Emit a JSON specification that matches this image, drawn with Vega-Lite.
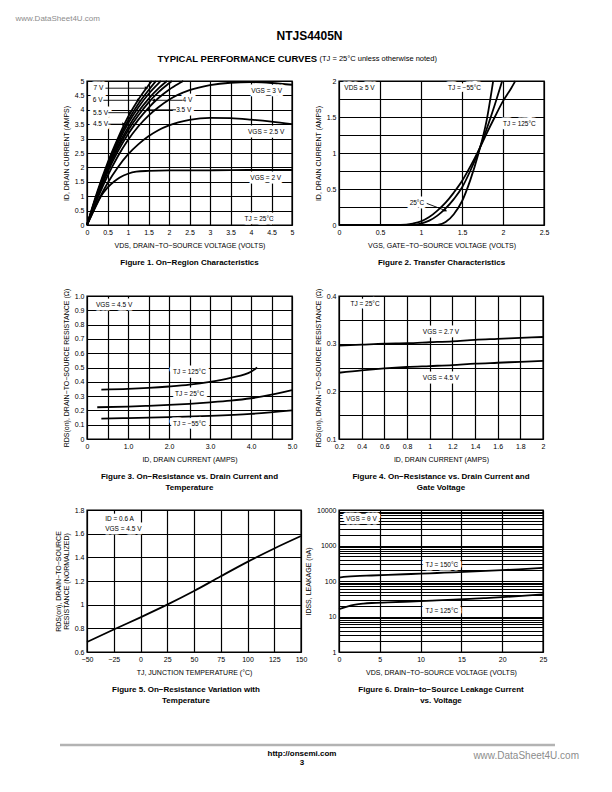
{
"$schema": "https://vega.github.io/schema/vega-lite/v6.json",
"background": "white",
"padding": {"left": 14, "top": 13, "right": 5, "bottom": 5},
"columns": 2,
"bounds": "flush",
"align": "each",
"spacing": {"row": 71, "column": 38},
"config": {
  "font": "Liberation Sans",
  "view": {"stroke": "#000", "strokeWidth": 1.4},
  "axis": {"zindex": 0, "grid": true, "gridColor": "#000", "gridWidth": 1.2, "gridOpacity": 1, "domain": false, "ticks": false, "labelFontSize": 7, "labelColor": "#000", "labelPadding": 3, "titleFontSize": 7, "titleFontWeight": "normal", "titleColor": "#000", "labelOverlap": false, "labelFlush": false},
  "axisX": {"titlePadding": 6},
  "axisY": {"titlePadding": 5},
  "title": {"orient": "bottom", "frame": "group", "anchor": "middle", "fontSize": 8, "fontWeight": "bold", "color": "#000", "offset": 11, "lineHeight": 11},
  "line": {"color": "#000", "strokeWidth": 1.8, "interpolate": "monotone"},
  "rule": {"color": "#000", "strokeWidth": 0.9},
  "text": {"fontSize": 6.5, "color": "#000"}
},
"datasets": {
  "f1": [
    {"s":"7V","x":0,"y":0},{"s":"7V","x":0.25,"y":1.15},{"s":"7V","x":0.5,"y":2.15},{"s":"7V","x":0.75,"y":3.0},{"s":"7V","x":1,"y":3.75},{"s":"7V","x":1.25,"y":4.35},{"s":"7V","x":1.5,"y":4.85},{"s":"7V","x":1.58,"y":5},
    {"s":"6V","x":0,"y":0},{"s":"6V","x":0.25,"y":1.1},{"s":"6V","x":0.5,"y":2.08},{"s":"6V","x":0.75,"y":2.92},{"s":"6V","x":1,"y":3.62},{"s":"6V","x":1.25,"y":4.2},{"s":"6V","x":1.5,"y":4.68},{"s":"6V","x":1.68,"y":5},
    {"s":"5.5V","x":0,"y":0},{"s":"5.5V","x":0.25,"y":1.07},{"s":"5.5V","x":0.5,"y":2.02},{"s":"5.5V","x":0.75,"y":2.83},{"s":"5.5V","x":1,"y":3.52},{"s":"5.5V","x":1.25,"y":4.08},{"s":"5.5V","x":1.5,"y":4.55},{"s":"5.5V","x":1.75,"y":4.93},{"s":"5.5V","x":1.8,"y":5},
    {"s":"4.5V","x":0,"y":0},{"s":"4.5V","x":0.25,"y":1.03},{"s":"4.5V","x":0.5,"y":1.95},{"s":"4.5V","x":0.75,"y":2.73},{"s":"4.5V","x":1,"y":3.38},{"s":"4.5V","x":1.25,"y":3.93},{"s":"4.5V","x":1.5,"y":4.38},{"s":"4.5V","x":1.75,"y":4.75},{"s":"4.5V","x":1.95,"y":5},
    {"s":"4V","x":0,"y":0},{"s":"4V","x":0.25,"y":1.0},{"s":"4V","x":0.5,"y":1.9},{"s":"4V","x":0.75,"y":2.65},{"s":"4V","x":1,"y":3.28},{"s":"4V","x":1.25,"y":3.8},{"s":"4V","x":1.5,"y":4.25},{"s":"4V","x":1.75,"y":4.62},{"s":"4V","x":2,"y":4.92},{"s":"4V","x":2.07,"y":5},
    {"s":"3.5V","x":0,"y":0},{"s":"3.5V","x":0.25,"y":0.97},{"s":"3.5V","x":0.5,"y":1.83},{"s":"3.5V","x":0.75,"y":2.55},{"s":"3.5V","x":1,"y":3.15},{"s":"3.5V","x":1.25,"y":3.65},{"s":"3.5V","x":1.5,"y":4.07},{"s":"3.5V","x":1.75,"y":4.42},{"s":"3.5V","x":2,"y":4.7},{"s":"3.5V","x":2.25,"y":4.92},{"s":"3.5V","x":2.35,"y":5},
    {"s":"3V","x":0,"y":0},{"s":"3V","x":0.25,"y":0.9},{"s":"3V","x":0.5,"y":1.7},{"s":"3V","x":0.75,"y":2.38},{"s":"3V","x":1,"y":2.95},{"s":"3V","x":1.25,"y":3.42},{"s":"3V","x":1.5,"y":3.8},{"s":"3V","x":1.75,"y":4.1},{"s":"3V","x":2,"y":4.35},{"s":"3V","x":2.5,"y":4.68},{"s":"3V","x":3,"y":4.86},{"s":"3V","x":3.5,"y":4.94},{"s":"3V","x":4,"y":4.96},{"s":"3V","x":4.5,"y":4.93},{"s":"3V","x":5,"y":4.87},
    {"s":"2.5V","x":0,"y":0},{"s":"2.5V","x":0.25,"y":0.78},{"s":"2.5V","x":0.5,"y":1.45},{"s":"2.5V","x":0.75,"y":2.0},{"s":"2.5V","x":1,"y":2.45},{"s":"2.5V","x":1.25,"y":2.8},{"s":"2.5V","x":1.5,"y":3.08},{"s":"2.5V","x":1.75,"y":3.3},{"s":"2.5V","x":2,"y":3.46},{"s":"2.5V","x":2.5,"y":3.65},{"s":"2.5V","x":3,"y":3.72},{"s":"2.5V","x":3.5,"y":3.71},{"s":"2.5V","x":4,"y":3.66},{"s":"2.5V","x":4.5,"y":3.59},{"s":"2.5V","x":5,"y":3.5},
    {"s":"2V","x":0,"y":0},{"s":"2V","x":0.1,"y":0.3},{"s":"2V","x":0.2,"y":0.6},{"s":"2V","x":0.34,"y":1.0},{"s":"2V","x":0.5,"y":1.3},{"s":"2V","x":0.67,"y":1.52},{"s":"2V","x":0.8,"y":1.65},{"s":"2V","x":1,"y":1.78},{"s":"2V","x":1.2,"y":1.85},{"s":"2V","x":1.5,"y":1.88},{"s":"2V","x":2,"y":1.9},{"s":"2V","x":3,"y":1.9},{"s":"2V","x":4,"y":1.91},{"s":"2V","x":5,"y":1.91}
  ],
  "f1r": [
    {"x":0.45,"y":4.75,"x2":1.45,"y2":4.75},{"x":0.4,"y":4.33,"x2":1.26,"y2":4.33},{"x":0.52,"y":3.9,"x2":1.05,"y2":3.9},{"x":0.52,"y":3.5,"x2":0.9,"y2":3.5},{"x":2.33,"y":4.33,"x2":1.62,"y2":4.33},{"x":2.17,"y":4.0,"x2":1.48,"y2":4.0}
  ],
  "f1t": [
    {"t":"7 V","x":0.28,"y":4.75},{"t":"6 V","x":0.26,"y":4.33},{"t":"5.5 V","x":0.33,"y":3.9},{"t":"4.5 V","x":0.33,"y":3.5},{"t":"4 V","x":2.45,"y":4.33},{"t":"3.5 V","x":2.36,"y":4.0},{"t":"VGS = 3 V","x":4.38,"y":4.66},{"t":"VGS = 2.5 V","x":4.37,"y":3.24},{"t":"VGS = 2 V","x":4.36,"y":1.64},{"t":"TJ = 25°C","x":4.2,"y":0.2}
  ],
  "f2": [
    {"s":"-55","x":0,"y":0},{"s":"-55","x":1.2,"y":0},{"s":"-55","x":1.3,"y":0.04},{"s":"-55","x":1.4,"y":0.15},{"s":"-55","x":1.5,"y":0.33},{"s":"-55","x":1.6,"y":0.62},{"s":"-55","x":1.7,"y":0.99},{"s":"-55","x":1.8,"y":1.45},{"s":"-55","x":1.88,"y":2},
    {"s":"25","x":0,"y":0},{"s":"25","x":0.9,"y":0},{"s":"25","x":1.0,"y":0.02},{"s":"25","x":1.1,"y":0.06},{"s":"25","x":1.2,"y":0.13},{"s":"25","x":1.3,"y":0.23},{"s":"25","x":1.4,"y":0.36},{"s":"25","x":1.5,"y":0.52},{"s":"25","x":1.6,"y":0.75},{"s":"25","x":1.7,"y":1.02},{"s":"25","x":1.8,"y":1.33},{"s":"25","x":1.9,"y":1.67},{"s":"25","x":1.99,"y":2},
    {"s":"125","x":0,"y":0},{"s":"125","x":0.75,"y":0},{"s":"125","x":0.9,"y":0.02},{"s":"125","x":1.0,"y":0.05},{"s":"125","x":1.1,"y":0.11},{"s":"125","x":1.2,"y":0.2},{"s":"125","x":1.3,"y":0.31},{"s":"125","x":1.4,"y":0.45},{"s":"125","x":1.5,"y":0.61},{"s":"125","x":1.6,"y":0.81},{"s":"125","x":1.7,"y":1.03},{"s":"125","x":1.8,"y":1.27},{"s":"125","x":1.9,"y":1.5},{"s":"125","x":2.0,"y":1.72},{"s":"125","x":2.1,"y":1.9},{"s":"125","x":2.15,"y":2}
  ],
  "f2r": [{"x":1.07,"y":0.3,"x2":1.3,"y2":0.2}],
  "f2t": [
    {"t":"VDS ≥ 5 V","x":0.25,"y":1.9},{"t":"TJ = −55°C","x":1.53,"y":1.9},{"t":"TJ = 125°C","x":2.2,"y":1.4},{"t":"25°C","x":0.95,"y":0.3}
  ],
  "f3": [
    {"s":"125","x":0.35,"y":0.345},{"s":"125","x":1,"y":0.35},{"s":"125","x":1.5,"y":0.357},{"s":"125","x":2,"y":0.367},{"s":"125","x":2.5,"y":0.38},{"s":"125","x":3,"y":0.4},{"s":"125","x":3.5,"y":0.428},{"s":"125","x":4,"y":0.47},{"s":"125","x":4.15,"y":0.5},
    {"s":"25","x":0.25,"y":0.222},{"s":"25","x":1,"y":0.227},{"s":"25","x":1.5,"y":0.232},{"s":"25","x":2,"y":0.238},{"s":"25","x":2.5,"y":0.246},{"s":"25","x":3,"y":0.256},{"s":"25","x":3.5,"y":0.268},{"s":"25","x":4,"y":0.285},{"s":"25","x":4.5,"y":0.31},{"s":"25","x":5,"y":0.342},
    {"s":"-55","x":0.35,"y":0.143},{"s":"-55","x":1,"y":0.146},{"s":"-55","x":2,"y":0.153},{"s":"-55","x":3,"y":0.162},{"s":"-55","x":4,"y":0.176},{"s":"-55","x":5,"y":0.2}
  ],
  "f3t": [
    {"t":"VGS = 4.5 V","x":0.66,"y":0.94},{"t":"TJ = 125°C","x":2.5,"y":0.468},{"t":"TJ = 25°C","x":2.5,"y":0.317},{"t":"TJ = −55°C","x":2.5,"y":0.102}
  ],
  "f4": [
    {"s":"2.7","x":0.2,"y":0.296},{"s":"2.7","x":0.4,"y":0.298},{"s":"2.7","x":0.6,"y":0.3},{"s":"2.7","x":0.8,"y":0.301},{"s":"2.7","x":1,"y":0.303},{"s":"2.7","x":1.2,"y":0.305},{"s":"2.7","x":1.4,"y":0.308},{"s":"2.7","x":1.6,"y":0.31},{"s":"2.7","x":1.8,"y":0.312},{"s":"2.7","x":2,"y":0.314},
    {"s":"4.5","x":0.2,"y":0.239},{"s":"4.5","x":0.4,"y":0.244},{"s":"4.5","x":0.6,"y":0.248},{"s":"4.5","x":0.8,"y":0.251},{"s":"4.5","x":1,"y":0.253},{"s":"4.5","x":1.2,"y":0.255},{"s":"4.5","x":1.4,"y":0.258},{"s":"4.5","x":1.6,"y":0.26},{"s":"4.5","x":1.8,"y":0.262},{"s":"4.5","x":2,"y":0.264}
  ],
  "f4t": [
    {"t":"TJ = 25°C","x":0.43,"y":0.384},{"t":"VGS = 2.7 V","x":1.1,"y":0.325},{"t":"VGS = 4.5 V","x":1.1,"y":0.227}
  ],
  "f5": [
    {"s":"a","x":-50,"y":0.684},{"s":"a","x":-25,"y":0.79},{"s":"a","x":0,"y":0.893},{"s":"a","x":25,"y":1.0},{"s":"a","x":50,"y":1.115},{"s":"a","x":75,"y":1.24},{"s":"a","x":100,"y":1.362},{"s":"a","x":125,"y":1.475},{"s":"a","x":150,"y":1.58}
  ],
  "f5t": [
    {"t":"ID = 0.6 A","x":-33,"y":1.72},{"t":"VGS = 4.5 V","x":-33,"y":1.64}
  ],
  "f6": [
    {"s":"150","x":0,"y":125},{"s":"150","x":1,"y":132},{"s":"150","x":2,"y":137},{"s":"150","x":4,"y":143},{"s":"150","x":6,"y":149},{"s":"150","x":8,"y":155},{"s":"150","x":10,"y":161},{"s":"150","x":12,"y":168},{"s":"150","x":14,"y":175},{"s":"150","x":16,"y":183},{"s":"150","x":18,"y":192},{"s":"150","x":20,"y":202},{"s":"150","x":22,"y":213},{"s":"150","x":25,"y":235},
    {"s":"125","x":0,"y":16},{"s":"125","x":0.5,"y":17.5},{"s":"125","x":1,"y":19},{"s":"125","x":2,"y":21.5},{"s":"125","x":3,"y":23},{"s":"125","x":4,"y":24},{"s":"125","x":6,"y":25},{"s":"125","x":8,"y":26},{"s":"125","x":10,"y":27},{"s":"125","x":12,"y":28.3},{"s":"125","x":14,"y":29.7},{"s":"125","x":16,"y":31.2},{"s":"125","x":18,"y":33},{"s":"125","x":20,"y":35},{"s":"125","x":22,"y":37.5},{"s":"125","x":25,"y":42}
  ],
  "f6t": [
    {"t":"VGS = 0 V","x":2.75,"y":5600},{"t":"TJ = 150°C","x":12.6,"y":275},{"t":"TJ = 125°C","x":12.6,"y":14.5}
  ],
  "foot": [{"a":0,"b":1,"h":0}]
},
"concat": [
  {
    "width": 205, "height": 144,
    "title": {"text": "Figure 1. On−Region Characteristics"},
    "resolve": {"axis": {"x": "independent", "y": "independent"}},
    "layer": [
      {"data": {"name": "f1"}, "mark": "line",
       "encoding": {
         "x": {"field": "x", "type": "quantitative", "scale": {"domain": [0, 5], "nice": false},
               "axis": {"values": [0,0.5,1,1.5,2,2.5,3,3.5,4,4.5,5], "format": "~g", "title": "VDS, DRAIN−TO−SOURCE VOLTAGE (VOLTS)"}},
         "y": {"field": "y", "type": "quantitative", "scale": {"domain": [0, 5], "nice": false},
               "axis": {"values": [0,0.5,1,1.5,2,2.5,3,3.5,4,4.5,5], "format": "~g", "title": "ID, DRAIN CURRENT (AMPS)"}},
         "detail": {"field": "s"}}},
      {"data": {"name": "f1t"}, "mark": {"type": "text", "stroke": "white", "strokeWidth": 7, "strokeJoin": "round", "fill": "white"},
       "encoding": {"x": {"field": "x", "type": "quantitative", "axis": null}, "y": {"field": "y", "type": "quantitative", "axis": null}, "text": {"field": "t"}}},
      {"data": {"name": "f1r"}, "mark": "rule",
       "encoding": {
         "x": {"field": "x", "type": "quantitative", "scale": {"domain": [0, 5], "nice": false},
               "axis": {"orient": "top", "labels": false, "grid": false, "ticks": false, "domain": false, "values": [], "title": "TYPICAL PERFORMANCE CURVES", "titleX": 70, "titleY": -23, "titleAlign": "left", "titleBaseline": "middle", "titleFontSize": 9.5, "titleFontWeight": "bold"}},
         "y": {"field": "y", "type": "quantitative", "scale": {"domain": [0, 5], "nice": false},
               "axis": {"orient": "right", "labels": false, "grid": false, "ticks": false, "domain": false, "values": [], "title": "www.DataSheet4U.com", "titleAngle": 0, "titleX": -277, "titleY": -63, "titleAlign": "left", "titleBaseline": "middle", "titleFontSize": 8, "titleColor": "#8c8c8c"}},
         "x2": {"field": "x2"}, "y2": {"field": "y2"}}},
      {"data": {"name": "f1r"}, "mark": {"type": "point", "filled": true, "size": 14, "color": "#000", "opacity": 1},
       "encoding": {
         "x": {"field": "x2", "type": "quantitative", "axis": null},
         "y": {"field": "y2", "type": "quantitative", "axis": null},
         "shape": {"condition": {"test": "datum.x2 > datum.x", "value": "triangle-right"}, "value": "triangle-left"}}},
      {"data": {"name": "f1t"}, "mark": "text",
       "encoding": {"x": {"field": "x", "type": "quantitative", "axis": null}, "y": {"field": "y", "type": "quantitative", "axis": null}, "text": {"field": "t"}}}
    ]
  },
  {
    "width": 205, "height": 144,
    "title": {"text": "Figure 2. Transfer Characteristics"},
    "resolve": {"axis": {"x": "independent", "y": "independent"}},
    "layer": [
      {"data": {"name": "f2"}, "mark": "line",
       "encoding": {
         "x": {"field": "x", "type": "quantitative", "scale": {"domain": [0, 2.5], "nice": false},
               "axis": {"values": [0,0.5,1,1.5,2,2.5], "format": "~g", "title": "VGS, GATE−TO−SOURCE VOLTAGE (VOLTS)"}},
         "y": {"field": "y", "type": "quantitative", "scale": {"domain": [0, 2], "nice": false},
               "axis": {"values": [0,0.25,0.5,0.75,1,1.25,1.5,1.75,2], "labelExpr": "round(datum.value*4) % 2 == 0 ? format(datum.value, '~g') : ''", "title": "ID, DRAIN CURRENT (AMPS)"}},
         "detail": {"field": "s"}}},
      {"data": {"name": "f2t"}, "mark": {"type": "text", "stroke": "white", "strokeWidth": 7, "strokeJoin": "round", "fill": "white"},
       "encoding": {"x": {"field": "x", "type": "quantitative", "axis": null}, "y": {"field": "y", "type": "quantitative", "axis": null}, "text": {"field": "t"}}},
      {"data": {"name": "f2r"}, "mark": "rule",
       "encoding": {
         "x": {"field": "x", "type": "quantitative", "scale": {"domain": [0, 2.5], "nice": false},
               "axis": {"orient": "top", "labels": false, "grid": false, "ticks": false, "domain": false, "values": [], "title": "(TJ = 25°C unless otherwise noted)", "titleX": -20, "titleY": -23, "titleAlign": "left", "titleBaseline": "middle", "titleFontSize": 7.5}},
         "y": {"field": "y", "type": "quantitative", "scale": {"domain": [0, 2], "nice": false},
               "axis": {"orient": "right", "labels": false, "grid": false, "ticks": false, "domain": false, "values": [], "title": "NTJS4405N", "titleAngle": 0, "titleX": -235, "titleY": -46, "titleAlign": "center", "titleBaseline": "middle", "titleFontSize": 12, "titleFontWeight": "bold"}},
         "x2": {"field": "x2"}, "y2": {"field": "y2"}}},
      {"data": {"name": "f2r"}, "mark": {"type": "point", "filled": true, "size": 14, "color": "#000", "opacity": 1, "shape": "triangle-right", "angle": 25},
       "encoding": {
         "x": {"field": "x2", "type": "quantitative", "axis": null},
         "y": {"field": "y2", "type": "quantitative", "axis": null}}},
      {"data": {"name": "f2t"}, "mark": "text",
       "encoding": {"x": {"field": "x", "type": "quantitative", "axis": null}, "y": {"field": "y", "type": "quantitative", "axis": null}, "text": {"field": "t"}}}
    ]
  },
  {
    "width": 205, "height": 143,
    "title": {"text": ["Figure 3. On−Resistance vs. Drain Current and", "Temperature"]},
    "resolve": {"axis": {"x": "independent", "y": "independent"}},
    "layer": [
      {"data": {"name": "f3"}, "mark": "line",
       "encoding": {
         "x": {"field": "x", "type": "quantitative", "scale": {"domain": [0, 5], "nice": false},
               "axis": {"values": [0,0.5,1,1.5,2,2.5,3,3.5,4,4.5,5], "labelExpr": "datum.value == 0 ? '0' : (round(datum.value*2) % 2 == 0 ? format(datum.value, '.1f') : '')", "title": "ID, DRAIN CURRENT (AMPS)"}},
         "y": {"field": "y", "type": "quantitative", "scale": {"domain": [0, 1], "nice": false},
               "axis": {"values": [0,0.1,0.2,0.3,0.4,0.5,0.6,0.7,0.8,0.9,1], "labelExpr": "datum.value == 0 ? '0' : format(datum.value, '.1f')", "title": "RDS(on), DRAIN−TO−SOURCE RESISTANCE (Ω)"}},
         "detail": {"field": "s"}}},
      {"data": {"name": "f3t"}, "mark": {"type": "text", "stroke": "white", "strokeWidth": 7, "strokeJoin": "round", "fill": "white"},
       "encoding": {"x": {"field": "x", "type": "quantitative", "axis": null}, "y": {"field": "y", "type": "quantitative", "axis": null}, "text": {"field": "t"}}},
      {"data": {"name": "f3t"}, "mark": "text",
       "encoding": {"x": {"field": "x", "type": "quantitative", "axis": null}, "y": {"field": "y", "type": "quantitative", "axis": null}, "text": {"field": "t"}}}
    ]
  },
  {
    "width": 204, "height": 143,
    "title": {"text": ["Figure 4. On−Resistance vs. Drain Current and", "Gate Voltage"]},
    "resolve": {"axis": {"x": "independent", "y": "independent"}},
    "layer": [
      {"data": {"name": "f4"}, "mark": "line",
       "encoding": {
         "x": {"field": "x", "type": "quantitative", "scale": {"domain": [0.2, 2], "nice": false, "zero": false},
               "axis": {"values": [0.2,0.4,0.6,0.8,1,1.2,1.4,1.6,1.8,2], "format": "~g", "title": "ID, DRAIN CURRENT (AMPS)"}},
         "y": {"field": "y", "type": "quantitative", "scale": {"domain": [0.1, 0.4], "nice": false, "zero": false},
               "axis": {"values": [0.1,0.15,0.2,0.25,0.3,0.35,0.4], "labelExpr": "round(datum.value*100) % 10 == 0 ? format(datum.value, '.1f') : ''", "title": "RDS(on), DRAIN−TO−SOURCE RESISTANCE (Ω)"}},
         "detail": {"field": "s"}}},
      {"data": {"name": "f4t"}, "mark": {"type": "text", "stroke": "white", "strokeWidth": 7, "strokeJoin": "round", "fill": "white"},
       "encoding": {"x": {"field": "x", "type": "quantitative", "axis": null}, "y": {"field": "y", "type": "quantitative", "axis": null}, "text": {"field": "t"}}},
      {"data": {"name": "f4t"}, "mark": "text",
       "encoding": {"x": {"field": "x", "type": "quantitative", "axis": null}, "y": {"field": "y", "type": "quantitative", "axis": null}, "text": {"field": "t"}}}
    ]
  },
  {
    "width": 214, "height": 142,
    "title": {"text": ["Figure 5. On−Resistance Variation with", "Temperature"], "dx": -8},
    "resolve": {"axis": {"x": "independent", "y": "independent"}},
    "layer": [
      {"data": {"name": "f5"}, "mark": "line",
       "encoding": {
         "x": {"field": "x", "type": "quantitative", "scale": {"domain": [-50, 150], "nice": false},
               "axis": {"values": [-50,-25,0,25,50,75,100,125,150], "format": "d", "title": "TJ, JUNCTION TEMPERATURE (°C)"}},
         "y": {"field": "y", "type": "quantitative", "scale": {"domain": [0.6, 1.8], "nice": false, "zero": false},
               "axis": {"values": [0.6,0.8,1,1.2,1.4,1.6,1.8], "format": "~g", "title": ["RDS(on), DRAIN−TO−SOURCE", "RESISTANCE (NORMALIZED)"], "titleLineHeight": 8}},
         "detail": {"field": "s"}}},
      {"data": {"name": "f5t"}, "mark": {"type": "text", "align": "left", "stroke": "white", "strokeWidth": 7, "strokeJoin": "round", "fill": "white"},
       "encoding": {"x": {"field": "x", "type": "quantitative", "axis": null}, "y": {"field": "y", "type": "quantitative", "axis": null}, "text": {"field": "t"}}},
      {"data": {"name": "f5t"}, "mark": {"type": "text", "align": "left"},
       "encoding": {"x": {"field": "x", "type": "quantitative", "axis": null}, "y": {"field": "y", "type": "quantitative", "axis": null}, "text": {"field": "t"}}}
    ]
  },
  {
    "width": 204, "height": 142,
    "title": {"text": ["Figure 6. Drain−to−Source Leakage Current", "vs. Voltage"]},
    "resolve": {"axis": {"x": "independent", "y": "independent"}},
    "layer": [
      {"data": {"name": "f6"}, "mark": "line",
       "encoding": {
         "x": {"field": "x", "type": "quantitative", "scale": {"domain": [0, 25], "nice": false},
               "axis": {"values": [0,5,10,15,20,25], "format": "d", "title": "VDS, DRAIN−TO−SOURCE VOLTAGE (VOLTS)"}},
         "y": {"field": "y", "type": "quantitative", "scale": {"type": "log", "domain": [1, 10000], "nice": false},
               "axis": {"values": [1,2,3,4,5,6,7,8,9,10,20,30,40,50,60,70,80,90,100,200,300,400,500,600,700,800,900,1000,2000,3000,4000,5000,6000,7000,8000,9000,10000], "labelExpr": "indexof([1,10,100,1000,10000], datum.value) >= 0 ? format(datum.value, 'd') : ''", "title": "IDSS, LEAKAGE (nA)"}},
         "detail": {"field": "s"}}},
      {"data": {"name": "f6t"}, "mark": {"type": "text", "stroke": "white", "strokeWidth": 7, "strokeJoin": "round", "fill": "white"},
       "encoding": {"x": {"field": "x", "type": "quantitative", "axis": null}, "y": {"field": "y", "type": "quantitative", "scale": {"type": "log"}, "axis": null}, "text": {"field": "t"}}},
      {"data": {"name": "f6t"}, "mark": "text",
       "encoding": {"x": {"field": "x", "type": "quantitative", "axis": null}, "y": {"field": "y", "type": "quantitative", "scale": {"type": "log"}, "axis": null}, "text": {"field": "t"}}}
    ]
  },
  {
    "width": 205, "height": 22,
    "view": {"stroke": null},
    "title": {"text": ["http://onsemi.com", "3"], "anchor": "end", "align": "center", "dx": 10, "offset": 4, "fontSize": 8, "lineHeight": 9},
    "data": {"name": "foot"},
    "mark": {"type": "rule", "color": "#b3b3b3", "strokeWidth": 2.5},
    "encoding": {
      "x": {"field": "a", "type": "quantitative", "scale": {"domain": [0, 1], "range": [-27, 468]}, "axis": null},
      "x2": {"field": "b"},
      "y": {"field": "h", "type": "quantitative", "scale": {"domain": [0, 1]}, "axis": null}
    }
  },
  {
    "width": 204, "height": 22,
    "view": {"stroke": null},
    "title": {"text": "www.DataSheet4U.com", "anchor": "end", "align": "right", "dx": 36, "offset": 6, "fontSize": 10, "fontWeight": "normal", "color": "#8c8c8c"},
    "data": {"name": "foot"},
    "mark": {"type": "point", "opacity": 0},
    "encoding": {}
  }
]
}
